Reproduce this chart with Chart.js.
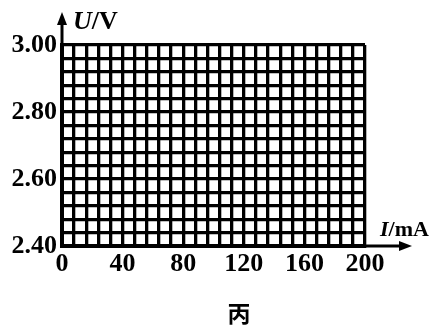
<!DOCTYPE html>
<html>
<head>
<meta charset="utf-8">
<script src="https://cdn.jsdelivr.net/npm/chart.js@4/dist/chart.umd.min.js"></script>
<style>
html,body{margin:0;padding:0;background:#fff;}
#wrap{position:relative;width:438px;height:327px;}
</style>
</head>
<body>
<div id="wrap"><canvas id="c" width="438" height="327"></canvas></div>
<script>
// Axis ranges and grid steps
const xRange = [0, 200];
const yRange = [2.40, 3.00];
const xStep = 8;      // mA per grid cell
const yStep = 0.04;   // V per grid cell
// Labelled tick values
const xTickLabels = [0, 40, 80, 120, 160, 200];
const yTickLabels = [2.40, 2.60, 2.80, 3.00];
// Axis titles and caption
const xTitleItalic = 'I';
const xTitleRest = '/mA';
const yTitleItalic = 'U';
const yTitleRest = '/V';
const caption = '丙';
// No measured points are plotted on this grid
const points = [];

const SERIF = '"Liberation Serif", "DejaVu Serif", serif';

const decorPlugin = {
  id: 'decor',
  afterDraw(chart) {
    const ctx = chart.ctx;
    const a = chart.chartArea;
    ctx.save();
    ctx.strokeStyle = '#000';
    ctx.fillStyle = '#000';
    ctx.lineWidth = 3;
    // y-axis arrow
    ctx.beginPath();
    ctx.moveTo(a.left, a.top);
    ctx.lineTo(a.left, 20);
    ctx.stroke();
    ctx.beginPath();
    ctx.moveTo(a.left, 12);
    ctx.lineTo(a.left - 5, 25);
    ctx.lineTo(a.left + 5, 25);
    ctx.closePath();
    ctx.fill();
    // x-axis arrow
    ctx.beginPath();
    ctx.moveTo(a.right, a.bottom);
    ctx.lineTo(402, a.bottom);
    ctx.stroke();
    ctx.beginPath();
    ctx.moveTo(412, a.bottom);
    ctx.lineTo(399, a.bottom - 5);
    ctx.lineTo(399, a.bottom + 5);
    ctx.closePath();
    ctx.fill();
    // axis titles
    ctx.textBaseline = 'alphabetic';
    ctx.textAlign = 'left';
    ctx.font = 'italic bold 26px ' + SERIF;
    ctx.fillText(yTitleItalic, 73, 29);
    let w = ctx.measureText(yTitleItalic).width;
    ctx.font = 'bold 26px ' + SERIF;
    ctx.fillText(yTitleRest, 73 + w, 29);

    ctx.font = 'italic bold 22px ' + SERIF;
    ctx.fillText(xTitleItalic, 380, 236);
    w = ctx.measureText(xTitleItalic).width;
    ctx.font = 'bold 22px ' + SERIF;
    ctx.fillText(xTitleRest, 380 + w, 236);
    // caption
    ctx.textAlign = 'center';
    ctx.font = 'bold 23px "Noto Sans CJK SC"';
    ctx.fillText(caption, 239, 322);
    ctx.restore();
  }
};

function inList(list, v) {
  return list.some(t => Math.abs(t - v) < 1e-6);
}

new Chart(document.getElementById('c'), {
  type: 'scatter',
  data: { datasets: [{ data: points, pointRadius: 0 }] },
  options: {
    responsive: false,
    animation: false,
    events: [],
    layout: { padding: { left: 0, top: 45, right: 73, bottom: 0 } },
    plugins: { legend: { display: false }, tooltip: { enabled: false } },
    scales: {
      x: {
        type: 'linear',
        min: xRange[0], max: xRange[1],
        afterFit(s) { s.height = 81; },
        grid: { color: '#000', lineWidth: 3.3, drawTicks: false },
        border: { color: '#000', width: 4 },
        ticks: {
          stepSize: xStep, autoSkip: false, maxRotation: 0, padding: 3,
          color: '#000', font: { family: SERIF, size: 26, weight: 'bold' },
          callback: v => inList(xTickLabels, v) ? String(Math.round(v)) : ''
        }
      },
      y: {
        type: 'linear',
        min: yRange[0], max: yRange[1],
        afterFit(s) { s.width = 62; },
        grid: { color: '#000', lineWidth: 3.3, drawTicks: false },
        border: { color: '#000', width: 4 },
        ticks: {
          stepSize: yStep, autoSkip: false, padding: 5,
          color: '#000', font: { family: SERIF, size: 26, weight: 'bold' },
          callback: v => inList(yTickLabels, v) ? v.toFixed(2) : ''
        }
      }
    }
  },
  plugins: [decorPlugin]
});
</script>
</body>
</html>
